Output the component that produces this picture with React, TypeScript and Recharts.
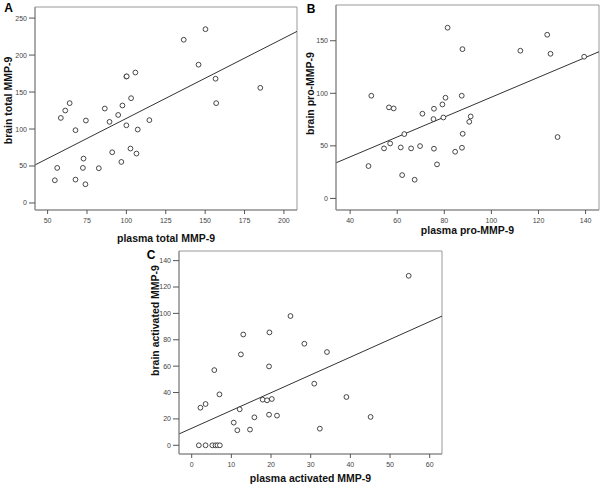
import React from 'react';
import {
  ScatterChart,
  Scatter,
  XAxis,
  YAxis,
  ReferenceLine,
  ReferenceArea,
  Label,
} from 'recharts';

// panel A: total MMP-9
const plasmaTotal = [136.4, 150.2, 145.8, 156.6, 157, 185, 100, 100.2, 105.7, 103, 97.5, 86.3, 94.8, 89.3, 100, 107.2, 114.6, 91, 102.6, 106.4, 96.8, 82.5, 72.8, 72.4, 74, 67.7, 67.7, 74.3, 58.4, 61.2, 64, 56.1, 54.6];
const brainTotal = [220.7, 235, 187, 168, 135, 155.7, 171, 171.2, 176.4, 141.7, 131.8, 127.7, 119, 109.7, 105, 99.3, 112, 68.6, 73.6, 66.8, 55.5, 47, 60, 47.4, 25.3, 31.6, 98.4, 111.5, 115, 125, 135, 47.4, 30.7];

// panel B: pro-MMP-9
const plasmaPro = [81.4, 87.7, 123.7, 112.3, 125.1, 139.4, 49, 56.5, 58.5, 80.5, 87.4, 79.2, 75.6, 70.7, 75.4, 79.6, 91.2, 90.6, 63, 57, 54.4, 61.5, 65.9, 69.7, 75.6, 87.8, 87.5, 84.6, 76.9, 47.8, 62.1, 67.4, 128.1];
const brainPro = [162.4, 142, 155.7, 140.5, 137.6, 134.8, 97.7, 86.6, 85.6, 95.8, 97.7, 89.4, 85.3, 80.6, 75.5, 77, 78, 72.9, 61.2, 52.3, 47.6, 48.5, 47.6, 49.8, 47.3, 61.5, 48.2, 44.4, 32.4, 30.8, 22.2, 17.8, 58.4];

// panel C: activated MMP-9
const plasmaActivated = [54.7, 24.9, 13, 19.6, 28.4, 34.1, 12.4, 5.7, 19.5, 7, 2.2, 3.5, 17.9, 19, 20.2, 12.1, 15.8, 19.5, 21.5, 10.6, 11.5, 14.7, 30.9, 32.3, 39, 45.1, 1.8, 3.5, 5.2, 6, 6.5, 7.1];
const brainActivated = [128.5, 98, 84, 85.6, 77, 70.7, 68.9, 57, 59.8, 38.6, 28.5, 31.3, 34.6, 34.1, 35.1, 27.3, 21.2, 23.2, 22.5, 17.2, 11.4, 11.9, 46.7, 12.6, 36.6, 21.5, 0, 0, 0, 0, 0, 0];

const ticksA = { x: [50, 75, 100, 125, 150, 175, 200], y: [0, 50, 100, 150, 200, 250] };
const ticksB = { x: [40, 60, 80, 100, 120, 140], y: [0, 50, 100, 150] };
const ticksC = { x: [0, 10, 20, 30, 40, 50, 60], y: [0, 20, 40, 60, 80, 100, 120, 140] };

// least squares lines: [intercept, slope]
const fitA = [5.8, 1.086];
const fitB = [1.7, 0.946];
const fitC = [12.9, 1.348];

const SANS = '"Liberation Sans", Arial, Helvetica, sans-serif';
const TICK = { fontSize: 7, fill: '#444', fontFamily: SANS };

const Ring = (p: any) => (
  <circle cx={p.cx} cy={p.cy} r={2.4} fill="#fff" stroke="#333" strokeWidth={0.9} />
);

type PanelProps = {
  letter: string;
  letterPos: [number, number];
  left: number;
  top: number;
  width: number;
  height: number;
  margin: { top: number; right: number; left: number; bottom: number };
  xs: number[];
  ys: number[];
  xDomain: [number, number];
  yDomain: [number, number];
  ticks: { x: number[]; y: number[] };
  fit: number[];
  xTitle: string;
  yTitle: string;
  xTitleDy: number;
  yTitleDx: number;
  yTitleDy: number;
};

function Panel(p: PanelProps) {
  const points = p.xs.map((x, i) => ({ x, y: p.ys[i] }));
  const [x0, x1] = p.xDomain;
  const seg = [
    { x: x0, y: p.fit[0] + p.fit[1] * x0 },
    { x: x1, y: p.fit[0] + p.fit[1] * x1 },
  ];

  return (
    <>
      <div
        style={{
          position: 'absolute',
          left: p.letterPos[0],
          top: p.letterPos[1],
          transform: 'translate(-50%, -50%)',
          fontFamily: SANS,
          fontWeight: 'bold',
          fontSize: 12,
          lineHeight: 1,
        }}
      >
        {p.letter}
      </div>
      <div style={{ position: 'absolute', left: p.left, top: p.top }}>
        <ScatterChart width={p.width} height={p.height} margin={p.margin}>
          <ReferenceArea
            x1={p.xDomain[0]}
            x2={p.xDomain[1]}
            y1={p.yDomain[0]}
            y2={p.yDomain[1]}
            fill="#fff"
            fillOpacity={0}
            stroke="#999"
            strokeWidth={1}
          />
          <XAxis
            type="number"
            dataKey="x"
            domain={p.xDomain}
            ticks={p.ticks.x}
            allowDataOverflow
            height={35}
            tick={TICK}
            tickSize={4}
            tickMargin={4}
            stroke="#888"
            tickLine={{ stroke: '#555' }}
          >
            <Label
              content={({ viewBox }: any) => (
                <text
                  x={viewBox.x + viewBox.width / 2}
                  y={viewBox.y + p.xTitleDy}
                  textAnchor="middle"
                  dominantBaseline="central"
                  fontFamily={SANS}
                  fontWeight="bold"
                  fontSize={10.5}
                  fill="#111"
                >
                  {p.xTitle}
                </text>
              )}
            />
          </XAxis>
          <YAxis
            type="number"
            dataKey="y"
            domain={p.yDomain}
            ticks={p.ticks.y}
            allowDataOverflow
            width={30}
            tick={TICK}
            tickSize={6}
            tickMargin={2}
            stroke="#888"
            tickLine={{ stroke: '#555' }}
          >
            <Label
              content={({ viewBox }: any) => {
                const cx = viewBox.x + p.yTitleDx;
                const cy = viewBox.y + viewBox.height / 2 + p.yTitleDy;
                return (
                  <text
                    x={cx}
                    y={cy}
                    transform={`rotate(-90, ${cx}, ${cy})`}
                    textAnchor="middle"
                    dominantBaseline="central"
                    fontFamily={SANS}
                    fontWeight="bold"
                    fontSize={10.5}
                    fill="#111"
                  >
                    {p.yTitle}
                  </text>
                );
              }}
            />
          </YAxis>
          <ReferenceLine segment={seg} stroke="#333" strokeWidth={1} ifOverflow="hidden" />
          <Scatter data={points} shape={Ring} isAnimationActive={false} />
        </ScatterChart>
      </div>
    </>
  );
}

export default function App() {
  return (
    <div
      style={{
        position: 'absolute',
        left: 0,
        top: 0,
        width: 604,
        height: 489,
        background: '#fff',
        overflow: 'hidden',
      }}
    >
      <Panel
        letter="A"
        letterPos={[8.5, 8]}
        left={0}
        top={0}
        width={300}
        height={245}
        margin={{ top: 7, right: 3, left: 5, bottom: 0 }}
        xs={plasmaTotal}
        ys={brainTotal}
        xDomain={[42, 208.3]}
        yDomain={[-9.5, 265]}
        ticks={ticksA}
        fit={fitA}
        xTitle="plasma total MMP-9"
        yTitle="brain total MMP-9"
        xTitleDy={28}
        yTitleDx={3}
        yTitleDy={-8}
      />
      <Panel
        letter="B"
        letterPos={[311, 9]}
        left={302}
        top={0}
        width={302}
        height={245}
        margin={{ top: 5, right: 5, left: 4, bottom: 0 }}
        xs={plasmaPro}
        ys={brainPro}
        xDomain={[34, 145.7]}
        yDomain={[-11, 184]}
        ticks={ticksB}
        fit={fitB}
        xTitle="plasma pro-MMP-9"
        yTitle="brain pro-MMP-9"
        xTitleDy={20}
        yTitleDx={4}
        yTitleDy={-14}
      />
      <Panel
        letter="C"
        letterPos={[151, 255]}
        left={149}
        top={240}
        width={297}
        height={249}
        margin={{ top: 11, right: 4, left: 0, bottom: 0 }}
        xs={plasmaActivated}
        ys={brainActivated}
        xDomain={[-3.2, 63.1]}
        yDomain={[-6.6, 147.3]}
        ticks={ticksC}
        fit={fitC}
        xTitle="plasma activated MMP-9"
        yTitle="brain activated MMP-9"
        xTitleDy={24}
        yTitleDx={6}
        yTitleDy={-32}
      />
    </div>
  );
}
